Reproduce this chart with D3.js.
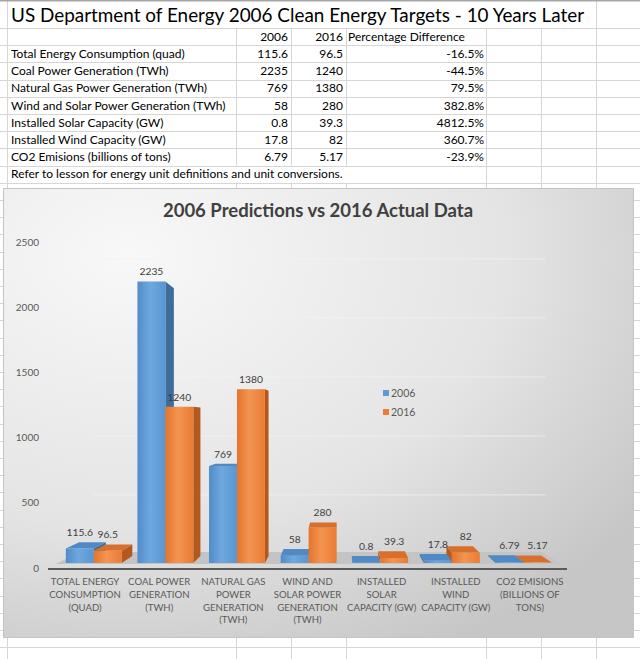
<!DOCTYPE html>
<html>
<head>
<meta charset="utf-8">
<script src="https://cdn.jsdelivr.net/npm/d3@7"></script>
<style>
body { margin: 0; background: #fff; }
svg { display: block; font-family: Lato, sans-serif; }
</style>
</head>
<body>
<svg id="sheet" width="640" height="659"></svg>
<script>
var sheetTitle = "US Department of Energy 2006 Clean Energy Targets - 10 Years Later";
var rowLabels = ["Total Energy Consumption (quad)", "Coal Power Generation (TWh)",
    "Natural Gas Power Generation (TWh)", "Wind and Solar Power Generation (TWh)",
    "Installed Solar Capacity (GW)", "Installed Wind Capacity (GW)", "CO2 Emisions (billions of tons)"];
var values2006 = [115.6, 2235, 769, 58, 0.8, 17.8, 6.79];
var values2016 = [96.5, 1240, 1380, 280, 39.3, 82, 5.17];
var pctDiff = ["-16.5%", "-44.5%", "79.5%", "382.8%", "4812.5%", "360.7%", "-23.9%"];
var footNote = "Refer to lesson for energy unit definitions and unit conversions.";

var chartTitle = "2006 Predictions vs 2016 Actual Data";
var seriesNames = ["2006", "2016"];
var axisLabels = [
    ["TOTAL ENERGY", "CONSUMPTION", "(QUAD)"],
    ["COAL POWER", "GENERATION", "(TWH)"],
    ["NATURAL GAS", "POWER", "GENERATION", "(TWH)"],
    ["WIND AND", "SOLAR POWER", "GENERATION", "(TWH)"],
    ["INSTALLED", "SOLAR", "CAPACITY (GW)"],
    ["INSTALLED", "WIND", "CAPACITY (GW)"],
    ["CO2 EMISIONS", "(BILLIONS OF", "TONS)"]
];
var yTicks = [0, 500, 1000, 1500, 2000, 2500];

var svg = d3.select("#sheet");
var defs = svg.append("defs");

// ---- spreadsheet grid ----
var colLines = [7, 236, 291, 346, 486, 541, 596];
var rowTop = 28, rowH = 17.2;
var footRow = 8;

var grid = svg.append("g").attr("stroke", "#d6d6d6").attr("stroke-width", 1);
d3.range(0, Math.ceil((659 - rowTop) / rowH) + 1).forEach(function(k) {
    var yy = Math.round(rowTop + k * rowH) + 0.5;
    grid.append("line").attr("x1", 0).attr("x2", 640).attr("y1", yy).attr("y2", yy);
});
colLines.forEach(function(cx) {
    var xx = cx + 0.5;
    // text of the title row runs over the inner column lines
    if (cx === 7 || cx === 596) {
        grid.append("line").attr("x1", xx).attr("x2", xx).attr("y1", 0).attr("y2", rowTop);
    }
    d3.range(0, Math.ceil((659 - rowTop) / rowH) + 1).forEach(function(k) {
        if (k === footRow && (cx === 236 || cx === 291 || cx === 346)) return;
        grid.append("line").attr("x1", xx).attr("x2", xx)
            .attr("y1", rowTop + k * rowH).attr("y2", rowTop + (k + 1) * rowH);
    });
});
svg.append("rect").attr("x", 0).attr("y", 0).attr("width", 640).attr("height", 1.5).attr("fill", "#a6a6a6");

// ---- table ----
var table = svg.append("g").attr("fill", "#000").style("font-size", "12px");
svg.append("text").attr("x", 11).attr("y", 22).attr("fill", "#000")
    .style("font-size", "18.9px").text(sheetTitle);

function baseline(k) { return rowTop + k * rowH + 12.8; }

table.append("text").attr("x", 288).attr("y", baseline(0)).attr("text-anchor", "end").text(seriesNames[0]);
table.append("text").attr("x", 343).attr("y", baseline(0)).attr("text-anchor", "end").text(seriesNames[1]);
table.append("text").attr("x", 348).attr("y", baseline(0)).text("Percentage Difference");

rowLabels.forEach(function(label, i) {
    var by = baseline(i + 1);
    table.append("text").attr("x", 11).attr("y", by).text(label);
    table.append("text").attr("x", 288).attr("y", by).attr("text-anchor", "end").text(values2006[i]);
    table.append("text").attr("x", 343).attr("y", by).attr("text-anchor", "end").text(values2016[i]);
    table.append("text").attr("x", 484).attr("y", by).attr("text-anchor", "end").text(pctDiff[i]);
});
table.append("text").attr("x", 11).attr("y", baseline(footRow)).text(footNote);

// ---- chart ----
var bg = defs.append("radialGradient").attr("id", "chartBg")
    .attr("cx", "20%").attr("cy", "15%").attr("r", "100%");
bg.append("stop").attr("offset", "0%").attr("stop-color", "#f8f8f8");
bg.append("stop").attr("offset", "60%").attr("stop-color", "#e4e4e4");
bg.append("stop").attr("offset", "100%").attr("stop-color", "#c6c6c6");

function faceGradient(id, c0, c1, c2) {
    var g = defs.append("linearGradient").attr("id", id)
        .attr("x1", "0%").attr("x2", "100%").attr("y1", "0%").attr("y2", "0%");
    g.append("stop").attr("offset", "0%").attr("stop-color", c0);
    g.append("stop").attr("offset", "45%").attr("stop-color", c1);
    g.append("stop").attr("offset", "100%").attr("stop-color", c2);
}
faceGradient("front0", "#4f8ccb", "#6ea8de", "#5896d3");
faceGradient("front1", "#e5742b", "#f39552", "#ea7b33");

var colors = [
    {front: "url(#front0)", top: "#5089c4", side: "#3d6d9c"},
    {front: "url(#front1)", top: "#d7702d", side: "#b3591e"}
];

var chart = svg.append("g");
chart.append("rect").attr("x", 3.5).attr("y", 188.5).attr("width", 630).attr("height", 449)
    .attr("fill", "url(#chartBg)").attr("stroke", "#c4c4c4");

chart.append("text").attr("x", 318).attr("y", 217).attr("text-anchor", "middle")
    .attr("fill", "#404040").style("font-size", "18.5px").style("font-weight", "bold")
    .text(chartTitle);

var x = d3.scaleBand().domain(d3.range(axisLabels.length)).range([48, 567]);
var y = d3.scaleLinear().domain([0, 2500]).range([568, 242]);

// simple perspective: points pushed back toward a vanishing point
var vp = {x: 340, y: 420};
var sFront = 0.966, sBack = 0.919, sWall = 0.905, sFloorFront = 0.973, sFloorBack = 0.892;
function P(px, py, s) { return [vp.x + (px - vp.x) * s, vp.y + (py - vp.y) * s]; }
function poly(pts) { return pts.map(function(p) { return p[0].toFixed(2) + "," + p[1].toFixed(2); }).join(" "); }

// back wall gridlines
yTicks.slice(1).forEach(function(t) {
    var a = P(x.range()[0] + 20, y(t), sWall), b = P(x.range()[1], y(t), sWall);
    chart.append("line").attr("x1", a[0]).attr("y1", a[1]).attr("x2", b[0]).attr("y2", b[1])
        .attr("stroke", "#f4f4f4").attr("stroke-width", 1.2).attr("opacity", 0.55);
});

// floor
chart.append("polygon").attr("points", poly([
    P(x.range()[0], y(0), sFloorFront), P(x.range()[1], y(0), sFloorFront),
    P(x.range()[1], y(0), sFloorBack), P(x.range()[0], y(0), sFloorBack)
])).attr("fill", "#c4c4c4");

// axis line
chart.append("line").attr("x1", x.range()[0]).attr("x2", x.range()[1])
    .attr("y1", y(0) + 1).attr("y2", y(0) + 1).attr("stroke", "#5a5a5a").attr("stroke-width", 2);

// y tick labels
chart.selectAll(".ytick").data(yTicks).enter().append("text")
    .attr("x", 39).attr("y", function(d) { return y(d) + 3.5; })
    .attr("text-anchor", "end").attr("fill", "#595959").style("font-size", "10px")
    .text(function(d) { return d; });

// x category labels
axisLabels.forEach(function(lines, i) {
    var t = chart.append("text").attr("text-anchor", "middle").attr("fill", "#595959")
        .style("font-size", "9.6px");
    lines.forEach(function(line, j) {
        t.append("tspan").attr("x", x(i) + x.bandwidth() / 2).attr("y", 585 + j * 12.8).text(line);
    });
});

// bars
var barW = x.bandwidth() * 0.39;
var bars = [];
axisLabels.forEach(function(d, i) {
    var c = x(i) + x.bandwidth() / 2;
    [values2006[i], values2016[i]].forEach(function(v, j) {
        var x0 = c - barW + j * barW;
        bars.push({x0: x0, x1: x0 + barW, v: v, series: j});
    });
});
bars.sort(function(a, b) {
    return Math.abs((b.x0 + b.x1) / 2 - vp.x) - Math.abs((a.x0 + a.x1) / 2 - vp.x);
});

var barG = chart.append("g");
bars.forEach(function(b) {
    var yt = y(b.v), yb = y(0);
    var col = colors[b.series];
    if (b.x1 < vp.x) {
        barG.append("polygon").attr("fill", col.side).attr("points",
            poly([P(b.x1, yt, sFront), P(b.x1, yt, sBack), P(b.x1, yb, sBack), P(b.x1, yb, sFront)]));
    } else if (b.x0 > vp.x) {
        barG.append("polygon").attr("fill", col.side).attr("points",
            poly([P(b.x0, yt, sFront), P(b.x0, yt, sBack), P(b.x0, yb, sBack), P(b.x0, yb, sFront)]));
    }
    if (yt > vp.y) {
        barG.append("polygon").attr("fill", col.top).attr("points",
            poly([P(b.x0, yt, sFront), P(b.x1, yt, sFront), P(b.x1, yt, sBack), P(b.x0, yt, sBack)]));
    }
    barG.append("polygon").attr("fill", col.front).attr("points",
        poly([P(b.x0, yt, sFront), P(b.x1, yt, sFront), P(b.x1, yb, sFront), P(b.x0, yb, sFront)]));
});

// data labels
bars.forEach(function(b) {
    var f = P((b.x0 + b.x1) / 2, y(b.v), sFront), k = P(b.x0, y(b.v), sBack);
    chart.append("text").attr("x", f[0]).attr("y", Math.min(f[1], k[1]) - 6)
        .attr("text-anchor", "middle").attr("fill", "#404040").style("font-size", "10.3px")
        .text(b.v);
});

// legend
seriesNames.forEach(function(name, j) {
    var ly = 393 + j * 19;
    chart.append("rect").attr("x", 383).attr("y", ly - 3).attr("width", 6).attr("height", 6)
        .attr("fill", j === 0 ? "#5b9bd5" : "#ed7d31");
    chart.append("text").attr("x", 391).attr("y", ly + 3.8).attr("fill", "#595959")
        .style("font-size", "10.5px").text(name);
});
</script>
</body>
</html>
